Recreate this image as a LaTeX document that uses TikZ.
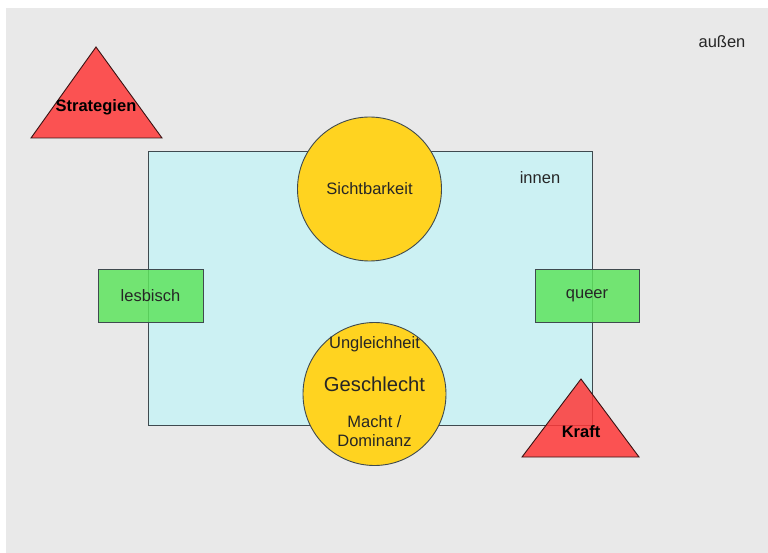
\documentclass[tikz,border=0pt]{standalone}
\usepackage{fontspec}
\setmainfont{Liberation Sans}
\usetikzlibrary{shapes.geometric}
\definecolor{bggray}{HTML}{E9E9E9}
\definecolor{cyanfill}{HTML}{CCF1F3}
\definecolor{goldfill}{HTML}{FFD320}
\definecolor{greenfill}{HTML}{5EE45E}
\definecolor{redfill}{HTML}{FF3838}
\definecolor{edgegray}{HTML}{3F4A4F}
\tikzset{
  every node/.style={font=\fontsize{16.5}{19}\selectfont, text=black!85},
  circ/.style={draw=edgegray, line width=0.9pt, fill=goldfill},
  gbox/.style={draw=edgegray, line width=0.9pt, fill=greenfill, fill opacity=0.85},
  tri/.style={draw=edgegray!60!red!40!black, line width=0.9pt, fill=redfill, fill opacity=0.85},
  lbl/.style={inner sep=0pt},
}
\begin{document}
\begin{tikzpicture}[x=1pt,y=-1pt]
\useasboundingbox (0,0) rectangle (768,553);
\fill[white] (0,0) rectangle (768,553);
\fill[bggray] (6,8) rectangle (768,553);
% inner rectangle
\draw[draw=edgegray, line width=0.9pt, fill=cyanfill] (148,151) rectangle (592,425);
\coordinate (rectnw) at (148,151);
% circles
\filldraw[circ] (369.5,189) circle (72);
\filldraw[circ] (374.5,394) circle (71.5);
\coordinate (c1) at (369.5,189);
\coordinate (c2) at (374.5,394);
% green boxes
\filldraw[gbox] (98,269) rectangle (203,322);
\filldraw[gbox] (535,269) rectangle (639,322);
% triangles
\filldraw[tri] (31,138) -- (96,47) -- (162,138) -- cycle;
\filldraw[tri] (522,457) -- (581,379) -- (639,457) -- cycle;
% texts
\node[lbl] (aussen) at (722,42) {außen};
\node[lbl] (innen) at (540,178) {innen};
\node[lbl, font=\fontsize{16.5}{19}\selectfont\bfseries, text=black] (strat) at (96,107.5) {Strategien};
\node[lbl, font=\fontsize{16.5}{19}\selectfont\bfseries, text=black] (kraft) at (581,431.5) {Kraft};
\node[lbl] (lesb) at (150.5,296) {lesbisch};
\node[lbl] (queer) at (587,296) {queer};
\node[lbl] (sicht) at (369.5,188.5) {Sichtbarkeit};
\node[lbl] (ungl) at (374.5,344.5) {Ungleichheit};
\node[lbl, font=\fontsize{20.2}{23}\selectfont] (geschl) at (374.5,384.5) {Geschlecht};
\node[lbl, align=center, font=\fontsize{16.5}{19.5}\selectfont] (macht) at (374.5,431) {Macht /\\Dominanz};
\end{tikzpicture}
\end{document}
